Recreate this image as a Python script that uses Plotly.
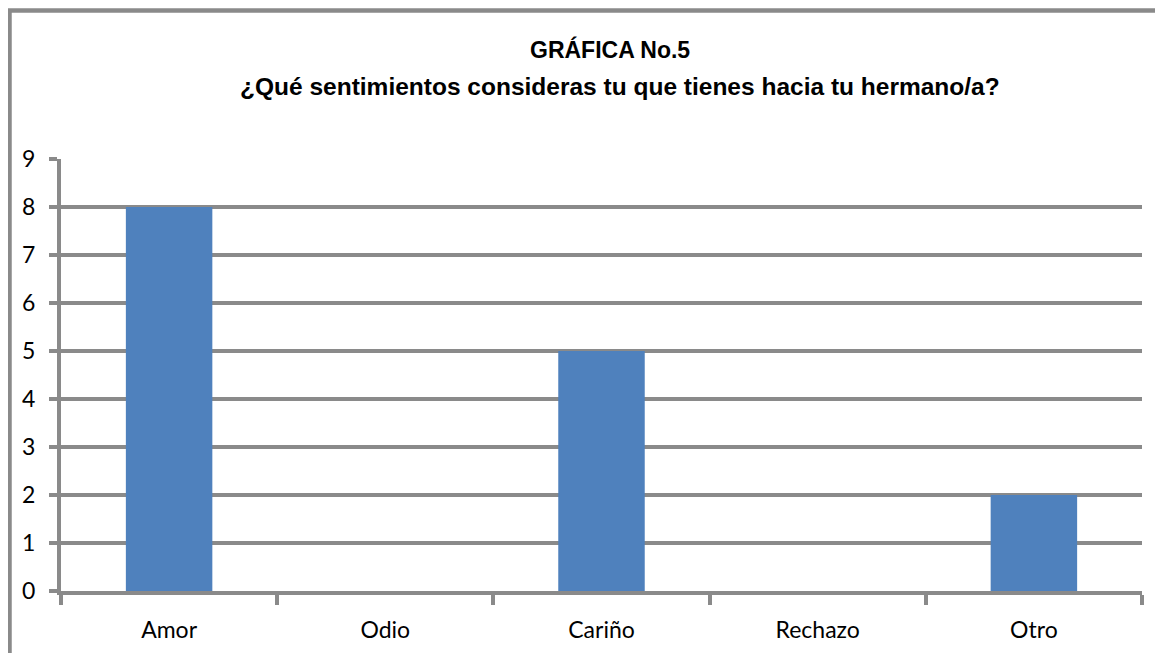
import plotly.graph_objects as go

categories = ["Amor", "Odio", "Cariño", "Rechazo", "Otro"]
values = [8, 0, 5, 0, 2]
title_line1 = "GRÁFICA No.5"
title_line2 = "¿Qué sentimientos consideras tu que tienes hacia tu hermano/a?"

OFF = 8  # default page body margin
PAGE_W, PAGE_H = 1163, 653
W, H = PAGE_W - OFF, PAGE_H - OFF
# plot area in page pixels
PX0, PX1, PY0, PY1 = 61, 1142, 159, 591
L, R, T, B = PX0 - OFF, PAGE_W - PX1, PY0 - OFF, PAGE_H - PY1
pw, ph = PX1 - PX0, PY1 - PY0
grid = "#8a8a8a"

def px_x(x):
    return (x - PX0) / pw

def px_y(y):
    return (PY1 - y) / ph

fig = go.Figure(go.Bar(x=categories, y=values, marker_color="#4F81BD",
                       marker_line_width=0, width=0.4))

fig.update_layout(
    width=W, height=H, margin=dict(l=L, r=R, t=T, b=B, autoexpand=False),
    paper_bgcolor="white", plot_bgcolor="white", showlegend=False,
    font=dict(family="Lato, Liberation Sans, sans-serif", color="black"),
)
fig.update_xaxes(
    type="category", tickson="boundaries", ticks="outside", ticklen=10,
    tickwidth=3.5, tickcolor=grid, showline=True, linecolor=grid, linewidth=4,
    showgrid=False, tickfont=dict(size=23, family="Lato, sans-serif"),
    ticklabelstandoff=15,
)
fig.update_yaxes(
    range=[0, 9], dtick=1, ticks="outside", ticklen=8, tickwidth=4,
    tickcolor=grid, showline=True, linecolor=grid, linewidth=4,
    showgrid=True, gridcolor=grid, gridwidth=4, zeroline=False,
    tickfont=dict(size=23, family="Lato, sans-serif"),
    ticklabelstandoff=9,
)

fig.add_annotation(text="<b>" + title_line1 + "</b>", xref="paper", yref="paper",
                   x=px_x(610), y=px_y(50), showarrow=False, xanchor="center", yanchor="middle",
                   font=dict(size=23, family="Liberation Sans, Arial, sans-serif"))
fig.add_annotation(text="<b>" + title_line2 + "</b>", xref="paper", yref="paper",
                   x=px_x(620), y=px_y(87), showarrow=False, xanchor="center", yanchor="middle",
                   font=dict(size=24.5, family="Liberation Sans, Arial, sans-serif"))

fig.add_shape(type="rect", xref="paper", yref="paper",
              x0=px_x(9.5), y0=px_y(690), x1=px_x(1200), y1=px_y(10.5),
              line=dict(color=grid, width=4.5), fillcolor="rgba(0,0,0,0)", layer="below")

fig.write_html("out.html")
